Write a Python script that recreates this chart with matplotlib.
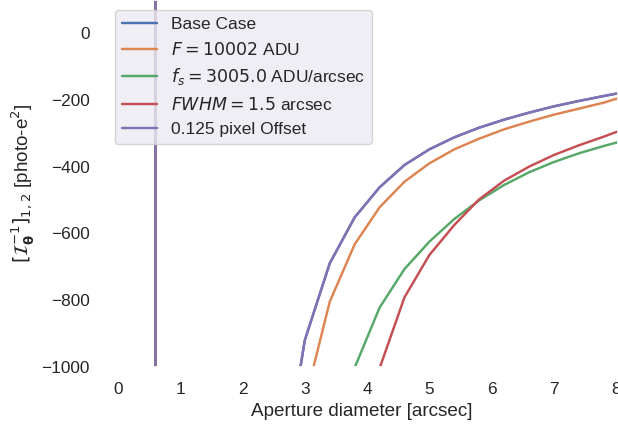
import matplotlib
matplotlib.use('Agg')
from matplotlib import pyplot as plt
import seaborn as sns

# aperture diameters the covariance term was evaluated at [arcsec]
aperture = [0.2, 0.6, 1.0, 1.4, 1.8, 2.2, 2.6, 3.0, 3.4, 3.8, 4.2,
            4.6, 5.0, 5.4, 5.8, 6.2, 6.6, 7.0, 7.4, 7.8, 8.2]

# [I^-1]_{1,2} for each configuration [photo-e^2]
base_case = [5.0e7, -2.4e4, -1.3e4, -6.8e3, -3.9e3, -2.3e3, -1380, -920, -690, -552, -462,
             -395, -348, -312, -283, -259, -238, -219, -203, -188, -174]
flux_case = [5.0e7, -2.6e4, -1.4e4, -7.4e3, -4.3e3, -2.6e3, -1600, -1105, -805, -633, -522,
             -445, -390, -348, -316, -288, -265, -244, -226, -208, -185]
sky_case = [5.0e7, -3.0e4, -1.7e4, -9.0e3, -5.5e3, -3.5e3, -2400, -1750, -1300, -1003, -823,
            -707, -625, -557, -501, -455, -417, -386, -360, -338, -318]
fwhm_case = [5.0e7, -3.2e4, -1.9e4, -1.05e4, -6.5e3, -4.3e3, -3000, -2200, -1650, -1280, -1005,
             -792, -665, -575, -498, -442, -400, -365, -336, -310, -282]
offset_case = list(base_case)

labels = ['Base Case', r'$F = 10002$ ADU', r'$f_s = 3005.0$ ADU/arcsec',
          r'$FWHM = 1.5$ arcsec', '0.125 pixel Offset']

sns.set_theme(style='darkgrid')
plt.rcParams['font.family'] = ['Liberation Sans', 'DejaVu Sans']
plt.rcParams['mathtext.fontset'] = 'dejavusans'
colors = sns.color_palette('deep')

fig = plt.figure(figsize=(6.18, 4.25), dpi=100)
ax = fig.add_axes([105 / 618, (425 - 366.7) / 425, 513 / 618, 366.7 / 425])
ax.set_facecolor('white')

series = [base_case, flux_case, sky_case, fwhm_case, offset_case]
for i in range(len(series)):
    ax.plot(aperture, series[i], color=colors[i], lw=1.75, label=labels[i])

ax.set_xlim(-0.21, 8.03)
ax.set_ylim(-1000, 100)
ax.set_yticks([0, -200, -400, -600, -800, -1000])
ax.tick_params(axis='both', length=0, pad=11, labelsize=12.4)
ax.set_xlabel('Aperture diameter [arcsec]', fontsize=13.6)
ax.set_ylabel(r'$[\mathcal{I}_{\mathbf{\theta}}^{-1}]_{1,2}$ [photo-e$^2$]', fontsize=13.6)
ax.legend(loc='upper left', bbox_to_anchor=(0.0195, 0.973), borderaxespad=0,
          fontsize=12.5, facecolor='#EAEAF2', framealpha=0.8)

fig.savefig('out.png', dpi=100)
